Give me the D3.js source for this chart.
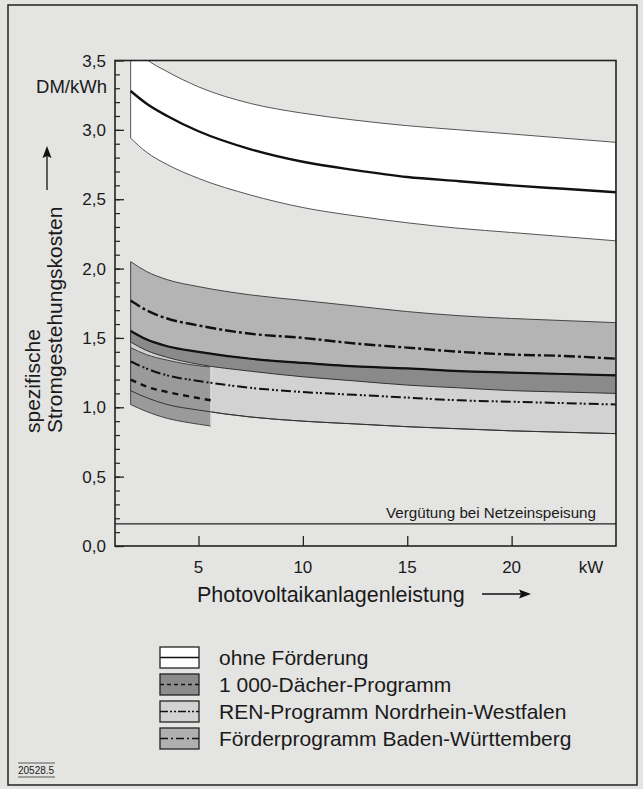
<!DOCTYPE html>
<html lang="de">
<head>
<meta charset="UTF-8">
<title>Stromgestehungskosten</title>
<script src="https://d3js.org/d3.v7.min.js"></script>
<style>
  body { margin: 0; background: #e4e4e2; }
  svg text { font-family: "Liberation Sans", Arial, sans-serif; fill: #1a1a1a; }
</style>
</head>
<body>
<svg id="chart" width="643" height="789"></svg>
<script>
// Anlagenleistung in kW
const kw = [1.75, 2.5, 3.5, 5, 7.5, 10, 12.5, 15, 17.5, 20, 22.5, 25];

// ohne Förderung (DM/kWh)
const ohneOben  = [3.62, 3.51, 3.42, 3.31, 3.19, 3.12, 3.07, 3.03, 3.00, 2.97, 2.94, 2.91];
const ohneMitte = [3.28, 3.19, 3.10, 2.99, 2.86, 2.77, 2.71, 2.66, 2.63, 2.60, 2.575, 2.55];
const ohneUnten = [2.94, 2.84, 2.75, 2.65, 2.53, 2.44, 2.38, 2.33, 2.29, 2.26, 2.23, 2.20];

// Förderprogramm Baden-Württemberg
const bwOben  = [2.05, 1.98, 1.92, 1.87, 1.81, 1.77, 1.73, 1.69, 1.66, 1.64, 1.625, 1.61];
const bwMitte = [1.77, 1.70, 1.64, 1.59, 1.53, 1.50, 1.46, 1.43, 1.40, 1.38, 1.37, 1.35];
const bwUnten = [1.47, 1.41, 1.36, 1.31, 1.26, 1.22, 1.19, 1.16, 1.14, 1.12, 1.11, 1.10];

// REN-Programm Nordrhein-Westfalen
const nrwOben  = [1.55, 1.49, 1.44, 1.40, 1.35, 1.32, 1.295, 1.28, 1.26, 1.25, 1.24, 1.23];
const nrwMitte = [1.33, 1.28, 1.23, 1.19, 1.14, 1.11, 1.09, 1.07, 1.05, 1.04, 1.03, 1.02];
const nrwUnten = [1.12, 1.07, 1.02, 0.98, 0.93, 0.90, 0.88, 0.86, 0.845, 0.83, 0.82, 0.81];

// 1 000-Dächer-Programm (nur kleine Anlagen)
const kwDaecher = [1.75, 2.5, 3.5, 4.5, 5.6];
const daecherOben  = [1.43, 1.38, 1.34, 1.31, 1.29];
const daecherMitte = [1.20, 1.15, 1.11, 1.08, 1.05];
const daecherUnten = [1.02, 0.97, 0.92, 0.89, 0.865];

const verguetung = 0.16;

const yTicks = [0, 0.5, 1, 1.5, 2, 2.5, 3, 3.5];
const xTicks = [5, 10, 15, 20];

const legendItems = [
  { label: "ohne Förderung", fill: "#ffffff", dash: null },
  { label: "1 000-Dächer-Programm", fill: "#8c8c8c", dash: "4,3" },
  { label: "REN-Programm Nordrhein-Westfalen", fill: "#d2d2d2", dash: "8,2,2,2,2,2" },
  { label: "Förderprogramm Baden-Württemberg", fill: "#b0b0b0", dash: "8,3,2,3" }
];

const svg = d3.select("#chart");
const L = 115, R = 616, T = 60.5, B = 546;
const x = d3.scaleLinear().domain([1, 25]).range([L, R]);
const y = d3.scaleLinear().domain([0, 3.5]).range([B, T]);
const fmt = d3.format(".1f");

// Außenrahmen
svg.append("rect").attr("x", 8).attr("y", 5).attr("width", 629).attr("height", 780)
  .attr("fill", "none").attr("stroke", "#222").attr("stroke-width", 1.5);

svg.append("clipPath").attr("id", "plotclip")
  .append("rect").attr("x", L).attr("y", T).attr("width", R - L).attr("height", B - T);

const plot = svg.append("g").attr("clip-path", "url(#plotclip)");

function band(xs, lo, hi) {
  return d3.area()
    .x((d, i) => x(xs[i]))
    .y0((d, i) => y(lo[i]))
    .y1((d, i) => y(hi[i]))
    .curve(d3.curveMonotoneX)(xs);
}
function line(xs, vs) {
  return d3.line()
    .x((d, i) => x(xs[i]))
    .y((d, i) => y(vs[i]))
    .curve(d3.curveMonotoneX)(xs);
}

// Bänder
plot.append("path").attr("d", band(kw, ohneUnten, ohneOben))
  .attr("fill", "#ffffff").attr("stroke", "#555").attr("stroke-width", 1);
plot.append("path").attr("d", band(kw, bwUnten, bwOben))
  .attr("fill", "#b4b4b4").attr("stroke", "#444").attr("stroke-width", 1);
plot.append("path").attr("d", band(kw, nrwUnten, nrwOben))
  .attr("fill", "#d2d2d2").attr("stroke", "#444").attr("stroke-width", 1);
// Überlappung BW / NRW
plot.append("path").attr("d", band(kw, bwUnten, nrwOben))
  .attr("fill", "#8a8a8a").attr("stroke", "#333").attr("stroke-width", 1);
plot.append("path").attr("d", band(kwDaecher, daecherUnten, daecherOben))
  .attr("fill", "#9a9a9a").attr("stroke", "#444").attr("stroke-width", 1);
plot.append("line")
  .attr("x1", x(5.6)).attr("x2", x(5.6))
  .attr("y1", y(daecherOben[4])).attr("y2", y(daecherUnten[4]))
  .attr("stroke", "#f2f2f2").attr("stroke-width", 1.5);

// Linien
plot.append("path").attr("d", line(kw, nrwUnten)).attr("fill", "none")
  .attr("stroke", "#333").attr("stroke-width", 1);
plot.append("path").attr("d", line(kw, ohneMitte)).attr("fill", "none")
  .attr("stroke", "#111").attr("stroke-width", 2.4);
plot.append("path").attr("d", line(kw, nrwOben)).attr("fill", "none")
  .attr("stroke", "#111").attr("stroke-width", 2.2);
plot.append("path").attr("d", line(kw, bwMitte)).attr("fill", "none")
  .attr("stroke", "#111").attr("stroke-width", 2.4).attr("stroke-dasharray", "11,3,3,3");
plot.append("path").attr("d", line(kw, nrwMitte)).attr("fill", "none")
  .attr("stroke", "#111").attr("stroke-width", 2).attr("stroke-dasharray", "10,3,2,2,2,3");
plot.append("path").attr("d", line(kwDaecher, daecherMitte)).attr("fill", "none")
  .attr("stroke", "#111").attr("stroke-width", 2.4).attr("stroke-dasharray", "6,5");

// Vergütung bei Netzeinspeisung
svg.append("line").attr("x1", L).attr("x2", R)
  .attr("y1", y(verguetung)).attr("y2", y(verguetung))
  .attr("stroke", "#222").attr("stroke-width", 1.3);
svg.append("text").attr("x", 596).attr("y", y(verguetung) - 6)
  .attr("text-anchor", "end").attr("font-size", 15.5)
  .attr("textLength", 210).attr("lengthAdjust", "spacingAndGlyphs")
  .text("Vergütung bei Netzeinspeisung");

// Rahmen Diagramm
svg.append("rect").attr("x", L).attr("y", T).attr("width", R - L).attr("height", B - T)
  .attr("fill", "none").attr("stroke", "#222").attr("stroke-width", 1.6);

// y-Achse: Ticks nach innen
const yAxis = d3.axisRight(y).tickValues(yTicks).tickSize(9).tickFormat("");
svg.append("g").attr("transform", `translate(${L},0)`).call(yAxis)
  .call(g => g.select(".domain").remove())
  .call(g => g.selectAll("line").attr("stroke", "#222").attr("stroke-width", 1.3));
const yMinor = d3.axisRight(y).tickValues(d3.range(0, 35).map(i => i / 10)).tickSize(5).tickFormat("");
svg.append("g").attr("transform", `translate(${L},0)`).call(yMinor)
  .call(g => g.select(".domain").remove())
  .call(g => g.selectAll("line").attr("stroke", "#222").attr("stroke-width", 1.2));

svg.append("g").selectAll("text").data(yTicks).join("text")
  .attr("x", 106).attr("y", d => y(d) + 6)
  .attr("text-anchor", "end").attr("font-size", 17)
  .text(d => fmt(d).replace(".", ","));
svg.append("text").attr("x", 107).attr("y", 93).attr("text-anchor", "end")
  .attr("font-size", 18.5).text("DM/kWh");

// x-Achse: Ticks nach innen
const xAxis = d3.axisTop(x).tickValues(xTicks).tickSize(10).tickFormat("");
svg.append("g").attr("transform", `translate(0,${B})`).call(xAxis)
  .call(g => g.select(".domain").remove())
  .call(g => g.selectAll("line").attr("stroke", "#222").attr("stroke-width", 1.3));
svg.append("g").selectAll("text").data(xTicks).join("text")
  .attr("x", d => x(d)).attr("y", 573).attr("text-anchor", "middle")
  .attr("font-size", 17).text(d => d);
svg.append("text").attr("x", 591).attr("y", 573).attr("text-anchor", "middle")
  .attr("font-size", 17).text("kW");

// Achsentitel
svg.append("text").attr("x", 197).attr("y", 602).attr("font-size", 21.5)
  .text("Photovoltaikanlagenleistung");
svg.append("line").attr("x1", 482).attr("x2", 526).attr("y1", 594).attr("y2", 594)
  .attr("stroke", "#111").attr("stroke-width", 1.3);
svg.append("path").attr("d", "M531,594 L519,589.5 L521,594 L519,598.5 Z").attr("fill", "#111");

const yt = svg.append("text").attr("transform", "translate(40,433) rotate(-90)").attr("font-size", 21);
yt.append("tspan").attr("x", 0).attr("dy", 0).text("spezifische");
yt.append("tspan").attr("x", 0).attr("dy", 22).text("Stromgestehungskosten");
svg.append("line").attr("x1", 47).attr("x2", 47).attr("y1", 190).attr("y2", 152)
  .attr("stroke", "#111").attr("stroke-width", 1.3);
svg.append("path").attr("d", "M47,146 L42.5,158 L47,156 L51.5,158 Z").attr("fill", "#111");

// Legende
const leg = svg.append("g").attr("transform", "translate(160,647)");
const rowH = 27;
legendItems.forEach((d, i) => {
  const g = leg.append("g").attr("transform", `translate(0,${i * rowH})`);
  g.append("rect").attr("x", 0).attr("y", 0).attr("width", 39).attr("height", 21)
    .attr("fill", d.fill).attr("stroke", "#222").attr("stroke-width", 1.3);
  g.append("line").attr("x1", 0).attr("x2", 39).attr("y1", 10.5).attr("y2", 10.5)
    .attr("stroke", "#111").attr("stroke-width", 1.6)
    .attr("stroke-dasharray", d.dash);
  g.append("text").attr("x", 59).attr("y", 18).attr("font-size", 21).text(d.label);
});

// Bildnummer
svg.append("text").attr("x", 18).attr("y", 774).attr("font-size", 10).text("20528.5");
svg.append("line").attr("x1", 18).attr("x2", 55).attr("y1", 763).attr("y2", 763)
  .attr("stroke", "#333").attr("stroke-width", 0.8);
svg.append("line").attr("x1", 18).attr("x2", 55).attr("y1", 777).attr("y2", 777)
  .attr("stroke", "#333").attr("stroke-width", 0.8);
</script>
</body>
</html>
